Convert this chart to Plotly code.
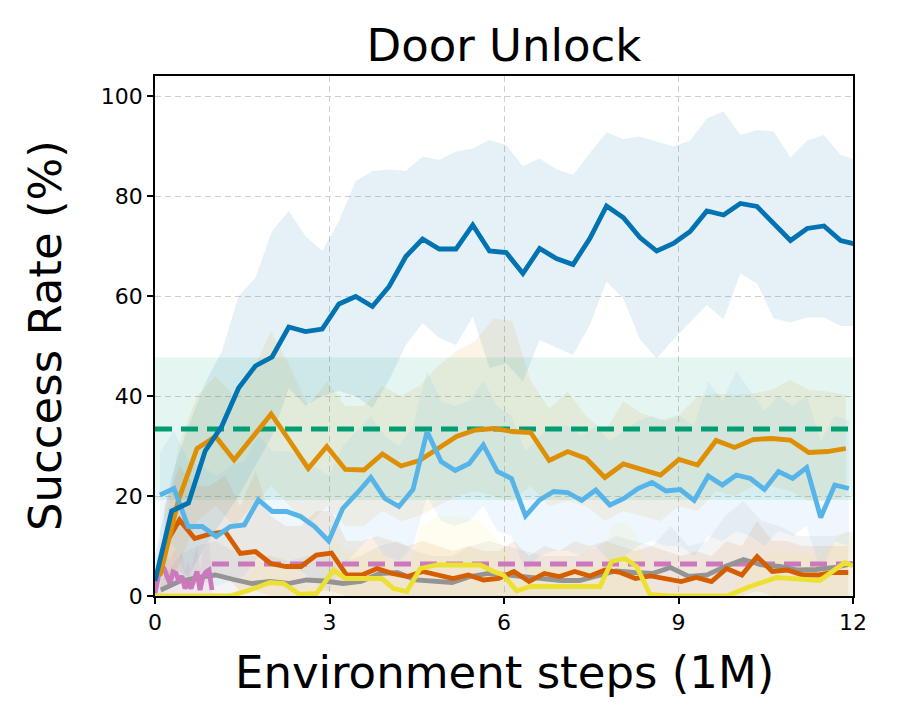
import numpy as np
import plotly.graph_objects as go

# ---------------- data ----------------
def grid(start, step, n):
    return [round(start + step * i, 4) for i in range(n)]

# dark blue method (43 evals)
DB_X = grid(0.0, 0.2875, 43)
DB_MEAN = [3, 17, 18.6, 29, 34, 41.6, 46, 47.8, 53.8, 52.9, 53.4, 58.4, 59.9, 57.9, 61.9,
           67.9, 71.4, 69.4, 69.4, 74.2, 69, 68.7, 64.5, 69.5, 67.5, 66.3, 71.5, 78, 75.7,
           71.7, 69, 70.5, 72.9, 77, 76.2, 78.5, 77.9, 74.4, 71.1, 73.5, 74, 71.1, 70.3]
DB_HI = [8, 24, 34, 42.6, 49, 60, 63.6, 73, 77, 72, 69, 75, 83, 85, 85.3, 85, 87.9, 87.2,
         88.9, 89.5, 91.2, 90.2, 86, 87.5, 85.4, 84.2, 88.6, 92.7, 91.4, 91.9, 90.9, 89.9,
         91.1, 95.5, 96.9, 92.2, 93.2, 92.9, 87.7, 91.1, 92.2, 88.2, 87.2]
DB_LO = [0, 2, 4, 10, 15, 20, 26, 32, 41.6, 38, 40, 41, 40, 37.6, 43.2, 50.2, 54.6, 51.6,
         50.2, 55.9, 45.6, 46.5, 42.9, 51.2, 49.7, 48.2, 54.2, 62.9, 59.5, 51.3, 47.5, 51.3,
         54.7, 58.2, 55.3, 64.5, 62.5, 55.5, 54.7, 55.7, 55.7, 54, 54]

# orange method (38 evals)
OR_X = grid(0.085, 0.3187, 38)
OR_MEAN = [4, 19.2, 29.5, 31.9, 27.2, 31.8, 36.4, 31, 25.5, 29.9, 25.3, 25.2, 28.4, 26, 27.1,
           29.5, 31.9, 33.2, 33.5, 32.9, 32.7, 27.1, 28.9, 27.5, 23.7, 26.4, 25.2, 24.2, 27.3,
           26.2, 31.1, 29.7, 31.3, 31.5, 31.2, 28.7, 28.9, 29.5]
OR_HI = [8, 30, 40, 44, 40, 45, 53, 46, 38, 43, 38, 38, 42, 40, 42, 46, 49, 51, 55.5, 55, 43,
         37.5, 40.9, 35.9, 32.9, 38.9, 36.5, 35.2, 36.2, 39.9, 40.5, 40.2, 40.5, 41.2, 43.2,
         41.2, 40.9, 40.2]
OR_LO = [0, 6, 15, 18, 14, 18, 22, 18, 14, 18, 14, 14, 17, 15, 16, 18, 20, 21, 20, 19, 22, 18,
         19, 18, 15, 17, 16, 15, 18, 17, 21, 20, 22, 22, 21, 19, 19, 20]

# light blue method (50 evals)
LB_X = grid(0.085, 0.2417, 50)
LB_MEAN = [20.2, 21.5, 13.9, 13.9, 11.9, 13.9, 14.2, 19.2, 16.9, 16.9, 15.9, 13.9, 11, 17.5,
           20.5, 23.7, 19.5, 17.9, 21.3, 32.9, 26.9, 25.1, 26.5, 30.2, 24.9, 23.5, 16, 19.2,
           20.9, 20.7, 19.1, 21.2, 18.2, 19.5, 21.5, 22.7, 21, 21.3, 19.1, 24, 22.2, 24.2,
           23.5, 21.3, 24.9, 23.5, 25.7, 15.7, 22.2, 21.5]
LB_HI = [28.6, 33, 27, 26, 24, 26, 27, 32, 29, 29, 28, 26, 24, 30, 33, 36, 32, 30, 34, 45, 39,
         38, 39, 43, 38, 36, 29, 32, 34, 34, 32, 34, 31, 33, 35, 36, 35, 36, 34, 43, 39, 45,
         41, 37, 40, 38, 40, 31, 36, 35]
LB_LO = [12, 10, 3, 3, 2, 3, 4, 8, 6, 6, 5, 3, 1, 6, 9, 12, 8, 7, 10, 20, 15, 14, 15, 18, 13,
         12, 5, 8, 9, 9, 8, 10, 7, 8, 10, 11, 10, 10, 8, 12, 11, 13, 12, 10, 13, 12, 14, 5,
         11, 10]

# vermillion method (46 evals)
RD_X = grid(0.16, 0.2613, 46)
RD_MEAN = [10, 15.2, 11.5, 12.4, 12.9, 8.5, 8.9, 6.5, 5.9, 5.9, 8.2, 8.6, 4.2, 4.2, 5.5, 4.5,
           3.9, 4.9, 4.2, 3.5, 4.2, 3.2, 3.5, 4.9, 2.9, 4.5, 3.9, 4.9, 4, 5.2, 4.7, 3.5, 4,
           3.5, 2.9, 3.7, 2.9, 5.5, 4.2, 7.9, 4.9, 5.2, 4.2, 4.2, 4.7, 4.7]
RD_HI = [18, 26, 22, 22, 24, 18, 25, 16, 14, 14, 17, 17, 11, 11, 12, 11, 10, 11, 10, 9, 10, 9,
         9, 11, 8, 10, 9, 11, 10, 11, 10, 9, 10, 9, 8, 9, 8, 11, 10, 15, 11, 11, 10, 10, 10, 10]
RD_LO = [3, 5, 3, 4, 4, 1, 1, 0, 0, 0, 1, 1, 0, 0, 0, 0, 0, 0, 0, 0, 0, 0, 0, 0, 0, 0, 0, 0,
         0, 0, 0, 0, 0, 0, 0, 0, 0, 0, 0, 1, 0, 0, 0, 0, 0, 0]

# grey method (39 evals)
GR_X = grid(0.1, 0.313, 39)
GR_MEAN = [1.2, 2.9, 3.7, 4.2, 3.3, 2.5, 2.9, 2.5, 3.2, 3.0, 2.5, 2.9, 4.5, 4.7, 3.2, 2.9, 2.7,
           3.9, 4.5, 4.2, 3.8, 3.3, 3.1, 3.1, 4.0, 5.0, 4.7, 4.5, 5.7, 3.9, 4.2, 5.9, 7.3, 6.2,
           5.9, 5.2, 5.3, 5.7, 6.5]
GR_HI = [3, 8, 10, 11, 9, 8, 8, 7, 8, 8, 7, 8, 10, 11, 9, 8, 8, 10, 11, 10, 9, 8, 8, 8, 10,
         12, 11, 10, 14, 10, 11, 16, 19, 15, 14, 12, 12, 12, 13]
GR_LO = [0] * 39

# yellow method
YL_X = [0, 1.29, 1.63, 1.98, 2.21, 2.49, 2.78, 3.07, 3.27, 3.49, 3.90, 4.10, 4.33, 4.56, 4.84,
        5.24, 5.59, 5.82, 5.99, 6.22, 6.45, 7.65, 7.85, 8.08, 8.28, 8.51, 8.85, 9.83, 10.23,
        10.69, 11.43, 11.86, 12.0]
YL_MEAN = [0, 0, 1.2, 2.7, 2.5, 0.3, 0.5, 5.2, 3.5, 3.5, 3.5, 1.5, 0.9, 5.5, 6.2, 6.2, 6.2,
           4.9, 4.2, 1.0, 1.9, 1.9, 6.9, 7.5, 5.9, 0.3, 0, 0, 1.9, 3.7, 3.1, 6.7, 6.0]
YL_HI = [0, 0, 4, 8, 8, 2, 2, 12, 9, 9, 9, 5, 3, 14, 16, 16, 15, 12, 10, 3, 6, 6, 14, 15,
         12, 1, 0, 0, 6, 9, 8, 13, 12]
YL_LO = [0] * 33

# pink method (short run) and its final value
PK_X = [0, 0.05, 0.10, 0.155, 0.206, 0.258, 0.31, 0.361, 0.413, 0.464, 0.516, 0.567, 0.619,
        0.67, 0.722, 0.774, 0.825, 0.877, 0.928, 0.98]
PK_MEAN = [0.5, 4, 6.3, 5.5, 4.2, 2.5, 4.8, 4.5, 2.9, 4, 1.5, 2.9, 1.5, 3.5, 4.9, 1.2, 3.9, 4.8,
           5.2, 1.2]
PK_HI = [2, 9, 12, 11, 9, 7, 9, 9, 7, 9, 5, 7, 5, 8, 10, 5, 9, 10, 11, 5]
PK_LO = [0] * 20
PK_FINAL = 6.4
PK_FINAL_X = [0.98, 12]

# green reference (constant)
GN_MEAN = 33.4
GN_LO = 19.2
GN_HI = 47.7
GN_X = [0, 12]

X_TICKS = [0, 3, 6, 9, 12]
Y_TICKS = [0, 20, 40, 60, 80, 100]

C_DB = "#0173B2"
C_OR = "#DE8F05"
C_GN = "#029E73"
C_RD = "#D55E00"
C_PK = "#CC78BC"
C_GR = "#949494"
C_YL = "#ECE133"
C_LB = "#56B4E9"


def rgba(hexc, a):
    h = hexc.lstrip("#")
    r, g, b = int(h[0:2], 16), int(h[2:4], 16), int(h[4:6], 16)
    return f"rgba({r},{g},{b},{a})"


fig = go.Figure()


def band(x, lo, hi, color, a=0.1):
    fig.add_trace(go.Scatter(
        x=list(x) + list(x)[::-1], y=list(hi) + list(lo)[::-1],
        fill="toself", fillcolor=rgba(color, a), line=dict(width=0),
        mode="lines", hoverinfo="skip", showlegend=False))


LW = 4.8


def line(x, y, color, dash=None, width=LW):
    fig.add_trace(go.Scatter(
        x=x, y=y, mode="lines",
        line=dict(color=color, width=width, dash=dash),
        hoverinfo="skip", showlegend=False))


band(DB_X, DB_LO, DB_HI, C_DB)
band(OR_X, OR_LO, OR_HI, C_OR)
band(GN_X, [GN_LO, GN_LO], [GN_HI, GN_HI], C_GN)
band(RD_X, RD_LO, RD_HI, C_RD)
band(PK_X, PK_LO, PK_HI, C_PK)
band(GR_X, GR_LO, GR_HI, C_GR)
band(YL_X, YL_LO, YL_HI, C_YL, 0.08)
band(LB_X, LB_LO, LB_HI, C_LB)

line(GN_X, [GN_MEAN, GN_MEAN], C_GN, dash="17px,9px")
line(PK_FINAL_X, [PK_FINAL, PK_FINAL], C_PK, dash="17px,9px")
line(GR_X, GR_MEAN, C_GR)
line(PK_X, PK_MEAN, C_PK)
line(RD_X, RD_MEAN, C_RD)
line(OR_X, OR_MEAN, C_OR)
line(LB_X, LB_MEAN, C_LB)
line(DB_X, DB_MEAN, C_DB)
line(YL_X, YL_MEAN, C_YL)

FONT = "DejaVu Sans"
axis_common = dict(
    showline=True, linecolor="black", linewidth=1.6, mirror=True,
    ticks="outside", ticklen=6, tickwidth=1.6, tickcolor="black",
    showgrid=True, gridcolor="#cfcfcf", gridwidth=1.3, griddash="6px,4px",
    zeroline=False, tickfont=dict(family=FONT, size=22, color="black"),
)

fig.update_layout(
    width=900, height=720,
    margin=dict(l=155, r=47, t=76, b=124),
    paper_bgcolor="white", plot_bgcolor="white",
    showlegend=False,
    title=dict(text="Door Unlock", x=0.5, xref="paper", xanchor="center",
               y=1 - 45 / 720, yref="container", yanchor="middle",
               font=dict(family=FONT, size=45, color="black")),
    xaxis=dict(range=[0, 12], tickvals=X_TICKS, **axis_common),
    yaxis=dict(range=[0, 104], tickvals=Y_TICKS, **axis_common),
    annotations=[
        dict(text="Environment steps (1M)", xref="paper", yref="paper",
             x=0.5, y=-76 / 520, xanchor="center", yanchor="middle", showarrow=False,
             font=dict(family=FONT, size=45, color="black")),
        dict(text="Success Rate (%)", xref="paper", yref="paper",
             x=-110 / 698, y=0.5, xanchor="center", yanchor="middle", showarrow=False,
             textangle=-90, font=dict(family=FONT, size=45, color="black")),
    ],
)

fig.write_html("out.html")
